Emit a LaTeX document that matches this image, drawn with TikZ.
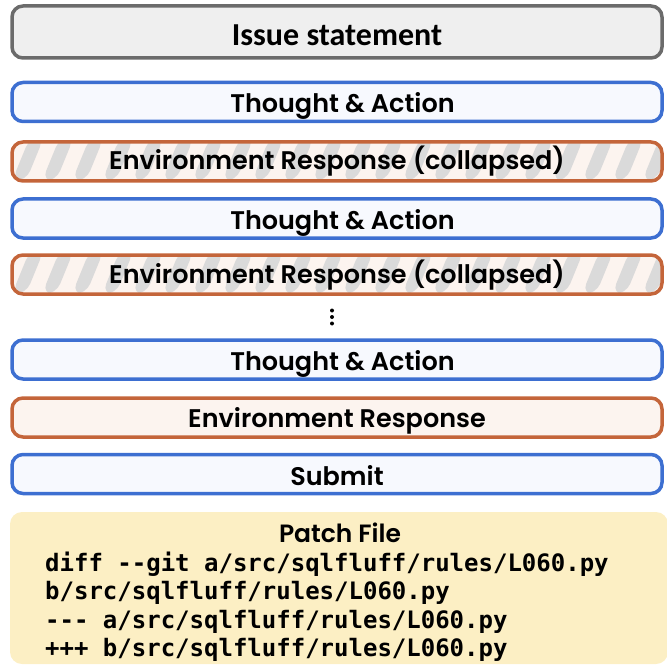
\documentclass[tikz,border=0pt]{standalone}
\usepackage{fontspec}
\setmainfont{Carlito}
\newfontfamily\popfont{Poppins SemiBold}
\newfontfamily\codefont{DejaVu Sans Mono}
\definecolor{issueedge}{HTML}{6B6B6B}
\definecolor{issuefill}{HTML}{EFEFEF}
\definecolor{stepedge}{HTML}{3D6FD1}
\definecolor{stepfill}{HTML}{F7F9FE}
\definecolor{envedge}{HTML}{C4653A}
\definecolor{envfill}{HTML}{FCF4EF}
\definecolor{stripegrey}{HTML}{DADADA}
\definecolor{patchfill}{HTML}{FCEFC4}
\tikzset{
  rowbox/.style={rectangle, rounded corners=11pt, line width=3.5pt,
    minimum width=650pt, minimum height=39pt, inner sep=0pt,
    text depth=0pt, text height=21pt,
    font=\popfont\fontsize{25.5}{27}\selectfont},
  issuebox/.style={rowbox, draw=issueedge, fill=issuefill, minimum height=52pt,
    text height=27.4pt, font=\bfseries\fontsize{32}{34}\selectfont},
  actbox/.style={rowbox, draw=stepedge, fill=stepfill},
  envbox/.style={rowbox, draw=envedge, fill=envfill, text height=20pt},
  collapsedbox/.style={rowbox, draw=envedge, fill=envfill, text height=17pt,
    path picture={
      \foreach \k in {-2,...,24} {
        \fill[stripegrey] ([xshift=\k*30pt]path picture bounding box.south west)
          -- ++(14pt,0pt) -- ++(18pt,44pt) -- ++(-14pt,0pt) -- cycle;
      }
    }},
  codeline/.style={anchor=base west, inner sep=0pt,
    font=\codefont\bfseries\fontsize{24}{28}\selectfont},
  dot/.style={circle, fill=black, inner sep=0pt, minimum size=4pt}
}
% label of the thought/action rows, set a little right of centre
\newcommand{\thoughtlabel}{\hspace*{11pt}Thought \& Action}
\begin{document}
\begin{tikzpicture}[x=1pt, y=-1pt]
  \useasboundingbox (0,0) rectangle (666,668);
  \node[issuebox] (issue) at (337,32) {Issue statement};
  \node[actbox] (act1) at (337,102) {\thoughtlabel};
  \node[collapsedbox] (env1) at (337,161.5) {Environment Response (collapsed)};
  \node[actbox] (act2) at (337,218.5) {\thoughtlabel};
  \node[collapsedbox] (env2) at (337,274.5) {Environment Response (collapsed)};
  \node[dot] (d1) at (332,310.5) {};
  \node[dot] (d2) at (332,317) {};
  \node[dot] (d3) at (332,323.5) {};
  \node[actbox] (act3) at (337,359.5) {\thoughtlabel};
  \node[envbox] (env3) at (337,417.5) {Environment Response};
  \node[actbox, text height=23pt] (submit) at (337,474) {Submit};
  \fill[patchfill, rounded corners=12pt] (10,512) rectangle (668,664);
  \node[anchor=base, inner sep=0pt, font=\popfont\fontsize{25}{27}\selectfont] (ptitle) at (340,542) {Patch File};
  \node[codeline] (c1) at (45,571) {diff --git a/src/sqlfluff/rules/L060.py};
  \node[codeline] (c2) at (45,599.5) {b/src/sqlfluff/rules/L060.py};
  \node[codeline] (c3) at (45,628) {--- a/src/sqlfluff/rules/L060.py};
  \node[codeline] (c4) at (45,656.5) {+++ b/src/sqlfluff/rules/L060.py};
\end{tikzpicture}
\end{document}
